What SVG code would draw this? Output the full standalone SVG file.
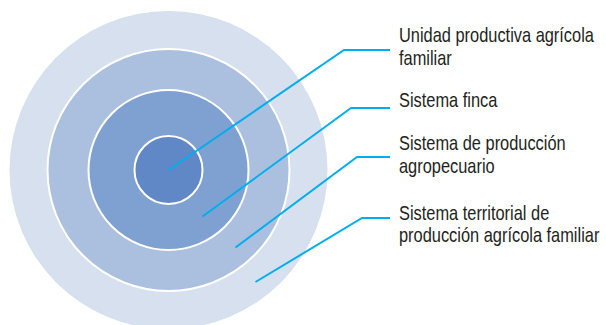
<svg xmlns="http://www.w3.org/2000/svg" width="606" height="325" viewBox="0 0 606 325">
<style>
.ring{stroke:#ffffff;stroke-width:2}
.lbl{font-family:"Liberation Sans",Arial,sans-serif;font-size:20.5px;fill:#231f20}
.con{fill:none;stroke:#00aeef;stroke-width:2;stroke-linejoin:miter}
</style>
<rect width="606" height="325" fill="#ffffff"/>
<g id="n4"><circle cx="168.5" cy="170" r="159" fill="#d6e0ee"/></g>
<g id="n3"><circle class="ring" cx="168.5" cy="170" r="121" fill="#abc0df"/></g>
<g id="n2"><circle class="ring" cx="168.5" cy="170" r="80" fill="#7fa1d1"/></g>
<g id="n1"><circle class="ring" cx="168.5" cy="170" r="34" fill="#6088c6"/></g>
<g id="connectors">
<polyline class="con" points="168.5,170 344,50 390,50"/>
<polyline class="con" points="202.5,216.5 351,108 390,108"/>
<polyline class="con" points="235.5,247.5 357,157 390,157"/>
<polyline class="con" points="255.5,282 362,218 390,218"/>
</g>
<g id="labels" transform="translate(399,0) scale(0.8,1)">
<g id="l1"><text class="lbl" x="0" y="42">Unidad productiva agrícola</text><text class="lbl" x="0" y="65">familiar</text></g>
<g id="l2"><text class="lbl" x="0" y="107">Sistema finca</text></g>
<g id="l3"><text class="lbl" x="0" y="150">Sistema de producción</text><text class="lbl" x="0" y="173">agropecuario</text></g>
<g id="l4"><text class="lbl" x="0" y="220">Sistema territorial de</text><text class="lbl" x="0" y="242">producción agrícola familiar</text></g>
</g>
</svg>
